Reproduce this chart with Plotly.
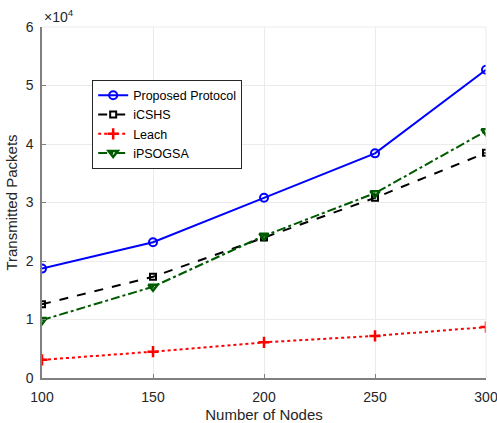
import plotly.graph_objects as go

nodes = [100, 150, 200, 250, 300]
proposed = [1.87, 2.32, 3.08, 3.84, 5.27]
icshs = [1.26, 1.73, 2.40, 3.08, 3.85]
leach = [0.31, 0.45, 0.61, 0.72, 0.87]
ipsogsa = [0.99, 1.56, 2.43, 3.16, 4.22]

y_ticks = [0, 1, 2, 3, 4, 5, 6]
x_ticks = [100, 150, 200, 250, 300]

font = "Liberation Sans, Arial, sans-serif"

fig = go.Figure()
fig.add_trace(go.Scatter(x=nodes, y=proposed, name="Proposed Protocol", mode="lines+markers",
                         line=dict(color="#0000ff", width=2),
                         marker=dict(symbol="circle-open", size=8, color="#0000ff", line=dict(width=2))))
fig.add_trace(go.Scatter(x=nodes, y=icshs, name="iCSHS", mode="lines+markers",
                         line=dict(color="#000000", width=2, dash="dash"),
                         marker=dict(symbol="square-open", size=6, color="#000000", line=dict(width=2))))
fig.add_trace(go.Scatter(x=nodes, y=leach, name="Leach", mode="lines+markers",
                         line=dict(color="#ff0000", width=2, dash="dot"),
                         marker=dict(symbol="cross-thin-open", size=8, color="#ff0000", line=dict(width=2.5, color="#ff0000"))))
fig.add_trace(go.Scatter(x=nodes, y=ipsogsa, name="iPSOGSA", mode="lines+markers",
                         line=dict(color="#005a00", width=2, dash="dashdot"),
                         marker=dict(symbol="triangle-down-open", size=8, color="#005a00", line=dict(width=2.5))))

fig.update_layout(
    width=497, height=423,
    margin=dict(l=42, r=11, t=27, b=45),
    paper_bgcolor="white", plot_bgcolor="white",
    font=dict(family=font, size=14, color="#262626"),
    showlegend=True,
    legend=dict(x=0.113, y=0.85, xanchor="left", yanchor="top",
                bgcolor="white", bordercolor="#262626", borderwidth=1,
                font=dict(size=12.5, color="#000000"), tracegroupgap=0,
                itemwidth=30),
    xaxis=dict(range=[100, 300], tickvals=x_ticks, showgrid=True, gridcolor="#ebebeb",
               showline=True, linecolor="#808080", linewidth=1.5, ticks="inside", ticklen=4,
               tickcolor="#808080", zeroline=False, automargin=False, ticklabelstandoff=5,
               ticklabeloverflow="allow",
               title=dict(text="Number of Nodes", font=dict(size=15, color="#262626"), standoff=6),
               tickfont=dict(size=14, color="#262626")),
    yaxis=dict(range=[0, 6], tickvals=y_ticks, showgrid=True, gridcolor="#ebebeb",
               showline=True, linecolor="#808080", linewidth=1.5, ticks="inside", ticklen=4,
               tickcolor="#808080", zeroline=False, automargin=False, ticklabelstandoff=4,
               ticklabeloverflow="allow",
               title=dict(text="Transmitted Packets", font=dict(size=15, color="#262626"), standoff=4),
               tickfont=dict(size=14, color="#262626")),
    annotations=[dict(text="×10<sup>4</sup>", xref="paper", yref="paper", x=0, y=1.0,
                      xanchor="left", yanchor="bottom", showarrow=False,
                      font=dict(size=14, color="#262626"))],
    shapes=[dict(type="line", xref="paper", yref="paper", x0=0, x1=1, y0=1, y1=1,
                 line=dict(color="#ebebeb", width=1)),
            dict(type="line", xref="paper", yref="paper", x0=1, x1=1, y0=0, y1=1,
                 line=dict(color="#ebebeb", width=1))],
)

fig.write_html("out.html")
